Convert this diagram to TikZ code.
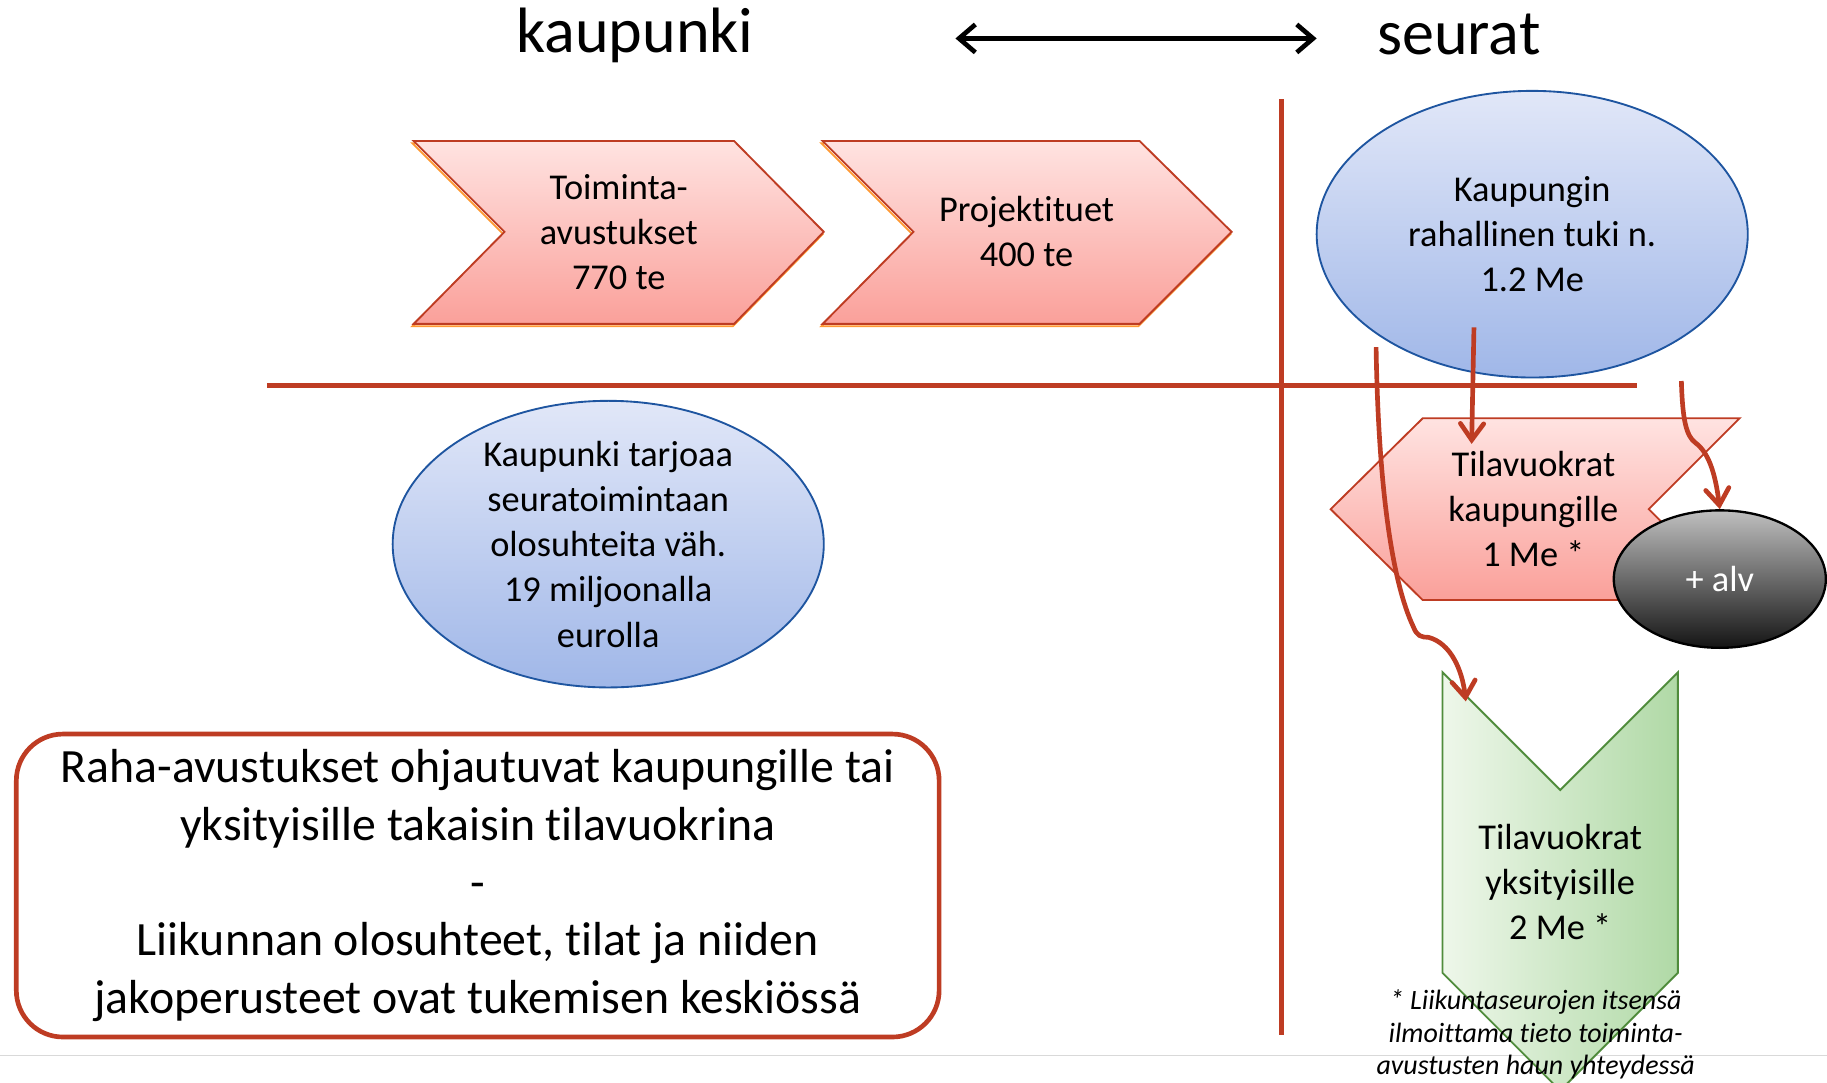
\documentclass[tikz,border=0pt]{standalone}
\usepackage{fontspec}
\setmainfont{Carlito}[Ligatures=NoCommon]
\usetikzlibrary{arrows.meta,shapes.geometric}
\usetikzlibrary{positioning}
\definecolor{rustred}{RGB}{190,60,35}
\definecolor{pinktop}{RGB}{255,227,225}
\definecolor{pinkbot}{RGB}{250,160,154}
\definecolor{bluetop}{RGB}{225,231,248}
\definecolor{bluebot}{RGB}{160,183,232}
\definecolor{blueline}{RGB}{30,85,160}
\definecolor{greenl}{RGB}{238,247,234}
\definecolor{greenr}{RGB}{176,217,166}
\definecolor{greenline}{RGB}{80,140,60}
\tikzset{
    txt/.style={
           align=center,
           inner sep=0pt,
           font=\fontsize{15.6}{19.4}\selectfont,
           },
}
\tikzset{
    pinkbox/.style={
           draw=rustred, line width=0.8pt,
           top color=pinktop, bottom color=pinkbot,
           },
    blueoval/.style={
           ellipse,
           draw=blueline, line width=0.8pt,
           top color=bluetop, bottom color=bluebot,
           inner sep=0pt,
           },
    flow/.style={
           draw=rustred, line width=2pt,
           -{Straight Barb[length=7pt,width=10pt,line cap=round]},
           },
}

\begin{document}
\begin{tikzpicture}[x=0.5pt,y=-0.5pt]
\useasboundingbox (0,0) rectangle (1568,929);
\draw[gray!30, line width=0.5pt] (0,906) -- (1568,906);
% titles
\node[font=\fontsize{27.5}{33}\selectfont](kaup) at (545,30){kaupunki};
\node[font=\fontsize{27.5}{33}\selectfont](seur) at (1252,30){seurat};
\coordinate (ta) at (820,33);
\coordinate (tb) at (1130,33);
\draw[line width=2pt,{Straight Barb[length=7pt,width=12pt]}-{Straight Barb[length=7pt,width=12pt]}] (ta) -- (tb);
% cross lines
\draw[rustred, line width=2pt] (1100,85) -- (1100,888);
\draw[rustred, line width=2pt] (229,331) -- (1405,331);
% chevrons
\draw[orange!80, line width=0.8pt, shift={(-1,2)}] (355,121) -- (630,121) -- (707,199) -- (630,278) -- (355,278) -- (433,199) -- cycle;
\path[pinkbox] (355,121) -- (630,121) -- (707,199) -- (630,278) -- (355,278) -- (433,199) -- cycle;
\node[txt](toim) at (531,199){Toiminta-\\avustukset\\770 te};
\draw[orange!80, line width=0.8pt, shift={(-1,2)}] (706,121) -- (978,121) -- (1057,199) -- (978,278) -- (706,278) -- (784,199) -- cycle;
\path[pinkbox] (706,121) -- (978,121) -- (1057,199) -- (978,278) -- (706,278) -- (784,199) -- cycle;
\node[txt](proj) at (881,199){Projektituet\\400 te};
% ellipses
\node[blueoval, minimum width=185pt, minimum height=123pt](tuki) at (1315,201){};
\node[txt] at (tuki.center){Kaupungin\\rahallinen tuki n.\\1.2 Me};
\node[blueoval, minimum width=185pt, minimum height=123pt](olo) at (522,467){};
\node[txt] at (olo.center){Kaupunki tarjoaa\\seuratoimintaan\\olosuhteita väh.\\19 miljoonalla\\eurolla};
% rents
\path[pinkbox] (1221,359) -- (1493,359) -- (1415,437) -- (1493,515) -- (1221,515) -- (1142,437) -- cycle;
\node[txt](kvuok) at (1316,437){Tilavuokrat\\kaupungille\\1 Me *};
\node[ellipse, draw=black, line width=1pt, top color=black!25, bottom color=black!92,
      minimum width=91pt, minimum height=59pt, inner sep=0pt](alv) at (1476,497){};
\node[txt, text=white] at (alv.center){+ alv};
\path[draw=greenline, line width=0.8pt, left color=greenl, right color=greenr] (1238,577) -- (1339,678) -- (1440,577) -- (1440,835) -- (1339,936) -- (1238,835) -- cycle;
\node[txt](yvuok) at (1339,757){Tilavuokrat\\yksityisille\\2 Me *};
\node[align=center, inner sep=0pt, font=\fontsize{12}{14}\selectfont\itshape](note) at (1318,888){* Liikuntaseurojen itsensä\\ilmoittama tieto toiminta-\\avustusten haun yhteydessä};
% flows
\coordinate (f1) at (1265,281);
\coordinate (f1e) at (1263,381);
\coordinate (f2) at (1443,327);
\coordinate (f3) at (1181,298);
\coordinate (f3e) at (1258,602);
\draw[flow] (f1) -- (f1e);
\draw[flow] (f2) .. controls (1444,360) and (1447,374) .. (1455,380) .. controls (1466,388) and (1472,405) .. (alv.north);
\draw[flow] (f3) .. controls (1183,420) and (1195,500) .. (1213,538) .. controls (1216,546) and (1220,547) .. (1226,547) .. controls (1245,552) and (1255,575) .. (f3e);
% message
\node[draw=rustred, line width=2pt, rounded corners=20pt, minimum width=396pt, minimum height=130pt](msg) at (410,760){};
\node[align=center, inner sep=0pt, font=\fontsize{20.5}{24.7}\selectfont] at (msg.center){Raha-avustukset ohjautuvat kaupungille tai\\yksityisille takaisin tilavuokrina\\-\\Liikunnan olosuhteet, tilat ja niiden\\jakoperusteet ovat tukemisen keskiössä};
\end{tikzpicture}
\end{document}
